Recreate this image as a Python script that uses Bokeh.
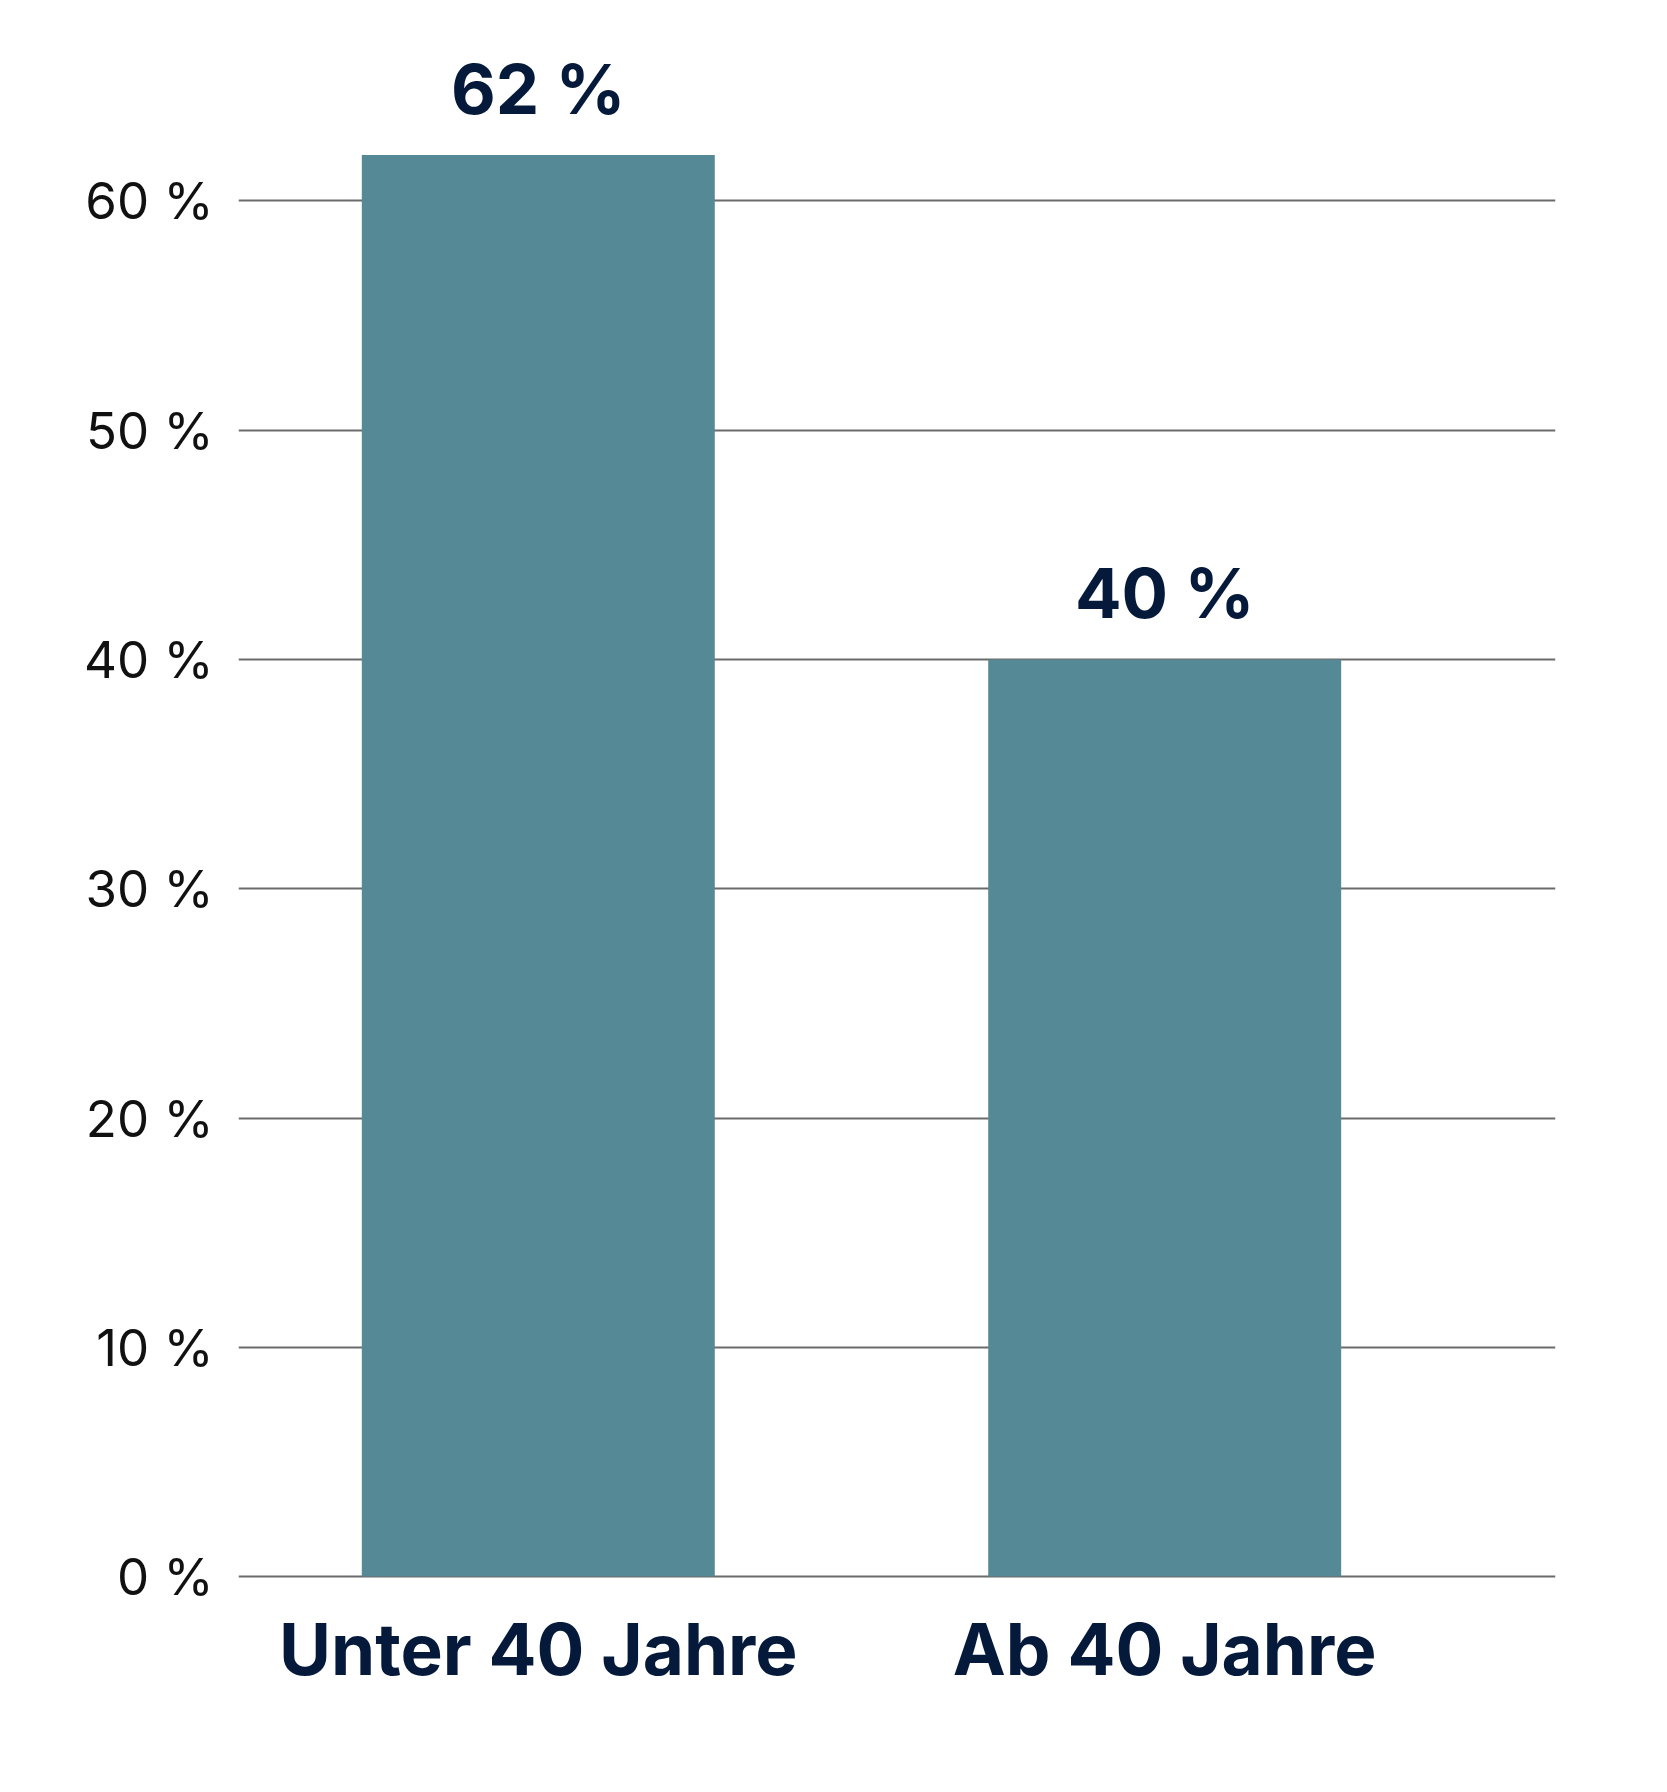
from bokeh.plotting import figure
from bokeh.models import Range1d, FixedTicker, ColumnDataSource
from bokeh.core.properties import value
from bokeh.embed import file_html
from bokeh.resources import INLINE

categories = ["Unter 40 Jahre", "Ab 40 Jahre"]
values = [62, 40]
value_labels = ["62 %", "40 %"]
y_ticks = [0, 10, 20, 30, 40, 50, 60]
y_tick_labels = ["0 %", "10 %", "20 %", "30 %", "40 %", "50 %", "60 %"]

BAR = "#568996"
NAVY = "#05193a"
FONT = "Inter"

xs = list(range(len(categories)))

p = figure(width=1651, height=1776, output_backend="svg", toolbar_location=None,
           x_range=Range1d(-0.4786, 1.6239), y_range=Range1d(-1, 68),
           min_border_left=238, min_border_right=96, min_border_top=17, min_border_bottom=177)

src = ColumnDataSource(dict(x=xs, top=values, label=value_labels))
p.vbar(x="x", top="top", width=0.5635, source=src, fill_color=BAR, line_color=None)
p.text(x="x", y="top", text="label", source=src, text_align="center", text_baseline="alphabetic",
       y_offset=-66, text_font_size="69px", text_font=value(FONT), text_font_style="bold",
       text_color=NAVY)

# axes
p.xaxis.ticker = FixedTicker(ticks=xs)
p.xaxis.major_label_overrides = {x: c for x, c in zip(xs, categories)}
p.xaxis.major_label_text_font = FONT
p.xaxis.major_label_text_font_style = "bold"
p.xaxis.major_label_text_font_size = "71px"
p.xaxis.major_label_text_color = NAVY
p.xaxis.major_label_standoff = 6
p.xaxis.axis_line_color = None
p.xaxis.major_tick_line_color = None
p.xaxis.minor_tick_line_color = None
p.xaxis.major_tick_out = 0

p.yaxis.ticker = FixedTicker(ticks=y_ticks)
p.yaxis.major_label_overrides = {t: l for t, l in zip(y_ticks, y_tick_labels)}
p.yaxis.major_label_text_font = FONT
p.yaxis.major_label_text_font_size = "51px"
p.yaxis.major_label_text_color = "#111111"
p.yaxis.major_label_standoff = 25
p.yaxis.axis_line_color = None
p.yaxis.major_tick_line_color = None
p.yaxis.minor_tick_line_color = None
p.yaxis.major_tick_out = 0

p.xgrid.grid_line_color = None
p.ygrid.ticker = FixedTicker(ticks=y_ticks)
p.ygrid.grid_line_color = "#6b6b6b"
p.ygrid.grid_line_width = 2
p.outline_line_color = None
p.background_fill_color = "white"
p.border_fill_color = "white"
p.ygrid.level = "underlay"

open("out.html", "w").write(file_html(p, INLINE))
